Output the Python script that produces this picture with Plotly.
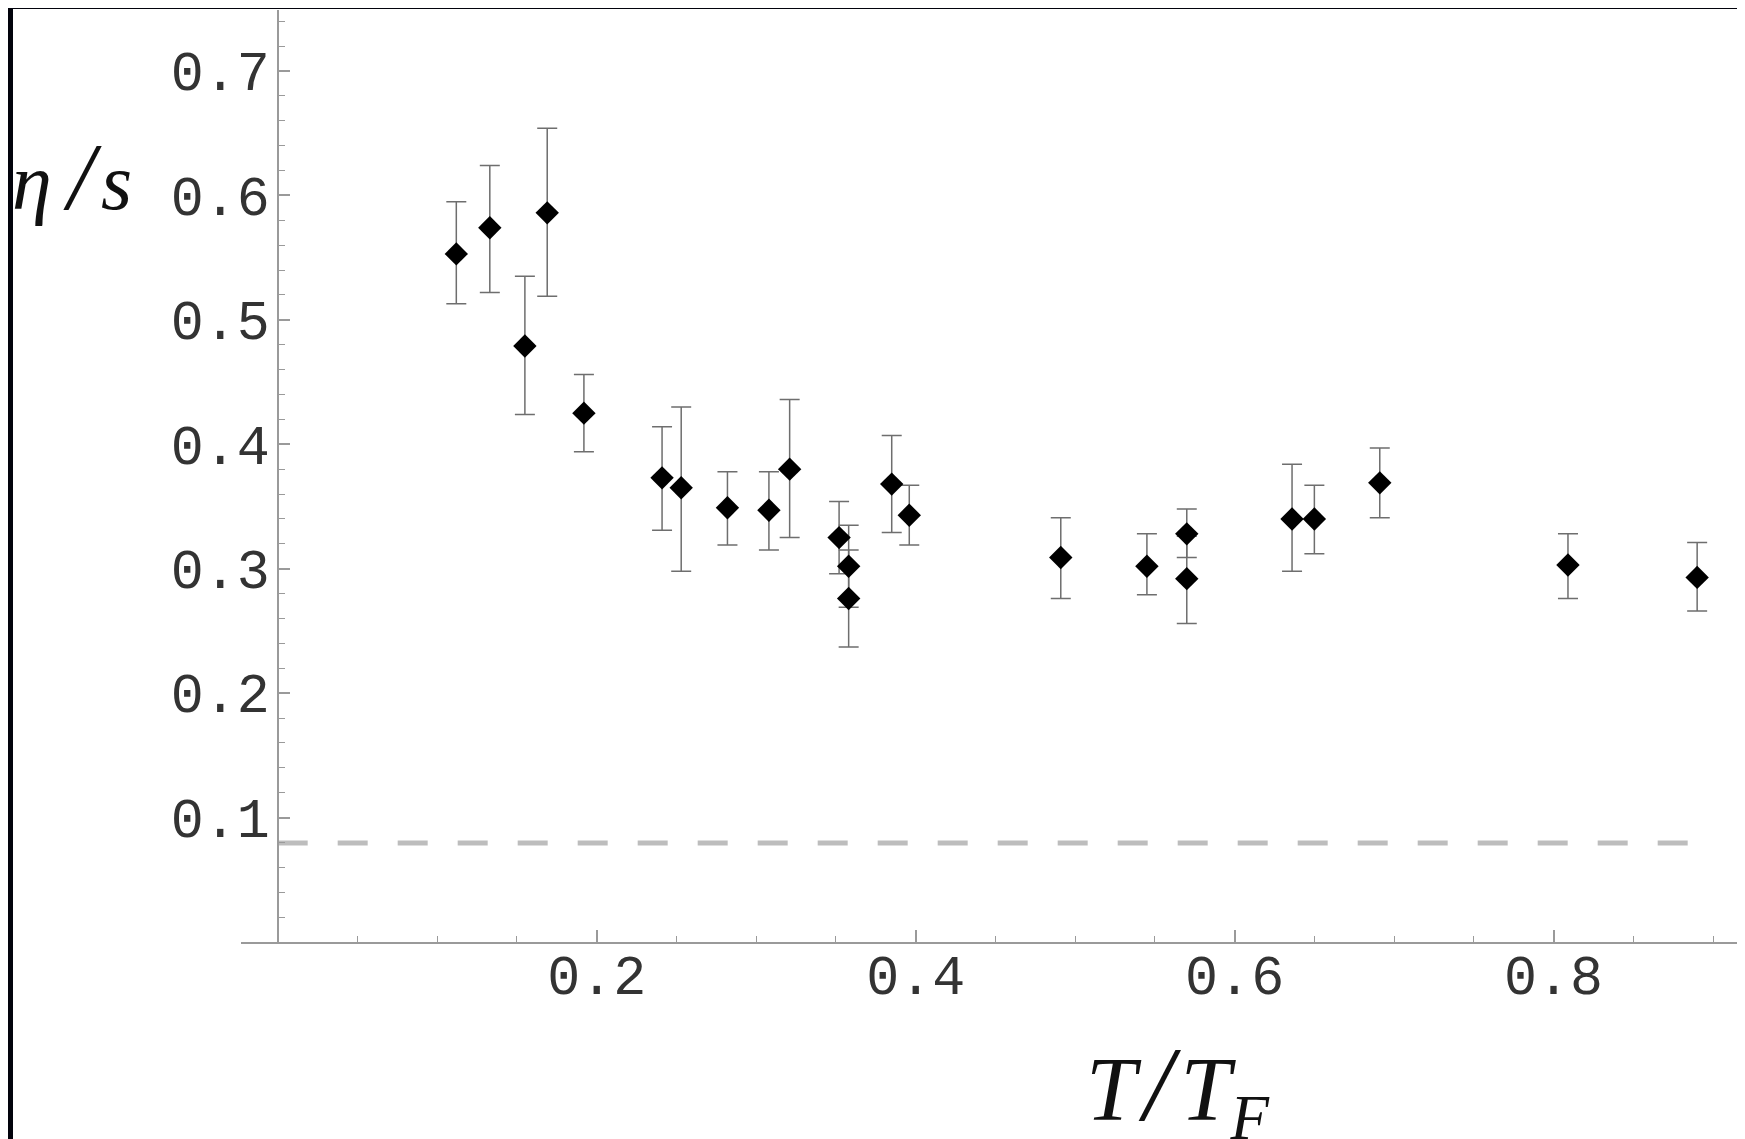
import plotly.graph_objects as go

# ---------------- data ----------------
t_over_tf = [0.112, 0.133, 0.155, 0.169, 0.192, 0.241, 0.253, 0.282, 0.308, 0.321,
             0.352, 0.358, 0.358, 0.385, 0.396, 0.491, 0.545, 0.570, 0.570, 0.636,
             0.650, 0.691, 0.809, 0.890]
eta_s = [0.553, 0.574, 0.479, 0.586, 0.425, 0.373, 0.365, 0.349, 0.347, 0.380,
         0.325, 0.302, 0.276, 0.368, 0.343, 0.309, 0.302, 0.328, 0.292, 0.340,
         0.340, 0.369, 0.303, 0.293]
eta_s_upper = [0.595, 0.624, 0.535, 0.654, 0.456, 0.414, 0.430, 0.378, 0.378, 0.436,
               0.354, 0.335, 0.315, 0.407, 0.367, 0.341, 0.328, 0.348, 0.326, 0.384,
               0.367, 0.397, 0.328, 0.321]
eta_s_lower = [0.513, 0.522, 0.424, 0.519, 0.394, 0.331, 0.298, 0.319, 0.315, 0.325,
               0.296, 0.269, 0.237, 0.329, 0.319, 0.276, 0.279, 0.309, 0.256, 0.298,
               0.312, 0.341, 0.276, 0.266]

kss_x = [0.0, 0.89]
kss_y = [0.0796, 0.0796]

x_tick_vals = [0.2, 0.4, 0.6, 0.8]
x_tick_text = ["0.2", "0.4", "0.6", "0.8"]
y_tick_vals = [0.1, 0.2, 0.3, 0.4, 0.5, 0.6, 0.7]
y_tick_text = ["0.1", "0.2", "0.3", "0.4", "0.5", "0.6", "0.7"]

# ---------------- layout geometry ----------------
# the page adds an 8px body margin, so the figure is sized/placed to compensate
W, H = 1737, 1131
ML, MR, MT, MB = 233, 0, 2, 197
X_RANGE = [-0.023, 0.920]
Y_RANGE = [0.0, 0.749]

plot_w = W - ML - MR
plot_h = H - MT - MB


def px_x(px):
    return (px - ML) / plot_w


def px_y(py):
    return (H - MB - py) / plot_h


err_plus = [u - v for u, v in zip(eta_s_upper, eta_s)]
err_minus = [v - l for v, l in zip(eta_s, eta_s_lower)]

AXIS_COL = "#9a9a9a"
TICK_FONT = dict(family="Liberation Mono", size=55, color="#333333")

fig = go.Figure()

fig.add_trace(go.Scatter(
    x=kss_x, y=kss_y, mode="lines",
    line=dict(color="#bdbdbd", width=5, dash="30px,30px"),
    hoverinfo="skip", showlegend=False, cliponaxis=False,
))

fig.add_trace(go.Scatter(
    x=t_over_tf, y=eta_s, mode="markers",
    marker=dict(symbol="diamond", size=18, color="black"),
    error_y=dict(type="data", symmetric=False, array=err_plus, arrayminus=err_minus,
                 color="#6e6e6e", thickness=1.5, width=10),
    showlegend=False,
))

y_axis_pos = (0 - X_RANGE[0]) / (X_RANGE[1] - X_RANGE[0])

fig.update_layout(
    width=W, height=H,
    margin=dict(l=ML, r=MR, t=MT, b=MB, pad=0),
    paper_bgcolor="white", plot_bgcolor="white",
    showlegend=False,
    xaxis=dict(
        range=X_RANGE, showgrid=False, zeroline=False,
        showline=True, linecolor=AXIS_COL, linewidth=2,
        tickmode="array", tickvals=x_tick_vals, ticktext=x_tick_text,
        ticks="inside", ticklen=12, tickwidth=1.5, tickcolor=AXIS_COL,
        tickfont=TICK_FONT, ticklabelstandoff=-16,
        minor=dict(tickmode="linear", tick0=0, dtick=0.05, ticks="inside",
                   ticklen=6, tickwidth=1.2, tickcolor=AXIS_COL, showgrid=False),
    ),
    yaxis=dict(
        range=Y_RANGE, showgrid=False, zeroline=False,
        anchor="free", position=y_axis_pos,
        showline=True, linecolor=AXIS_COL, linewidth=2,
        tickmode="array", tickvals=y_tick_vals, ticktext=y_tick_text,
        ticks="inside", ticklen=11, tickwidth=1.5, tickcolor=AXIS_COL,
        tickfont=TICK_FONT, ticklabelstandoff=-4,
        minor=dict(tickmode="linear", tick0=0, dtick=0.02, ticks="inside",
                   ticklen=6, tickwidth=1.2, tickcolor=AXIS_COL, showgrid=False),
    ),
)

# black border at the left/top edges of the picture (the page margin supplies the rest)
fig.add_shape(type="rect", xref="paper", yref="paper",
              x0=px_x(-5), x1=px_x(5), y0=px_y(H + 5), y1=px_y(-5),
              fillcolor="#02030c", line=dict(width=0), layer="above")
fig.add_shape(type="rect", xref="paper", yref="paper",
              x0=px_x(-5), x1=px_x(W + 5), y0=px_y(1), y1=px_y(-5),
              fillcolor="#02030c", line=dict(width=0), layer="above")

# axis titles
fig.add_annotation(
    text="<i>η</i>\u2009<span style='font-size:96px'><i>/</i></span>\u200a<i>s</i>",
    xref="paper", yref="paper",
    x=px_x(64), y=px_y(168), xanchor="center", yanchor="middle",
    showarrow=False,
    font=dict(family="Liberation Serif", size=80, color="#111111"))
fig.add_annotation(
    text="<i>T</i>\u200a<span style='font-size:106px'><i>/</i></span>\u200a<i>T</i><sub><i>F</i></sub>",
    xref="paper", yref="paper",
    x=px_x(1170), y=px_y(1081), xanchor="center", yanchor="middle",
    showarrow=False,
    font=dict(family="Liberation Serif", size=90, color="#111111"))

fig.write_html("out.html")
